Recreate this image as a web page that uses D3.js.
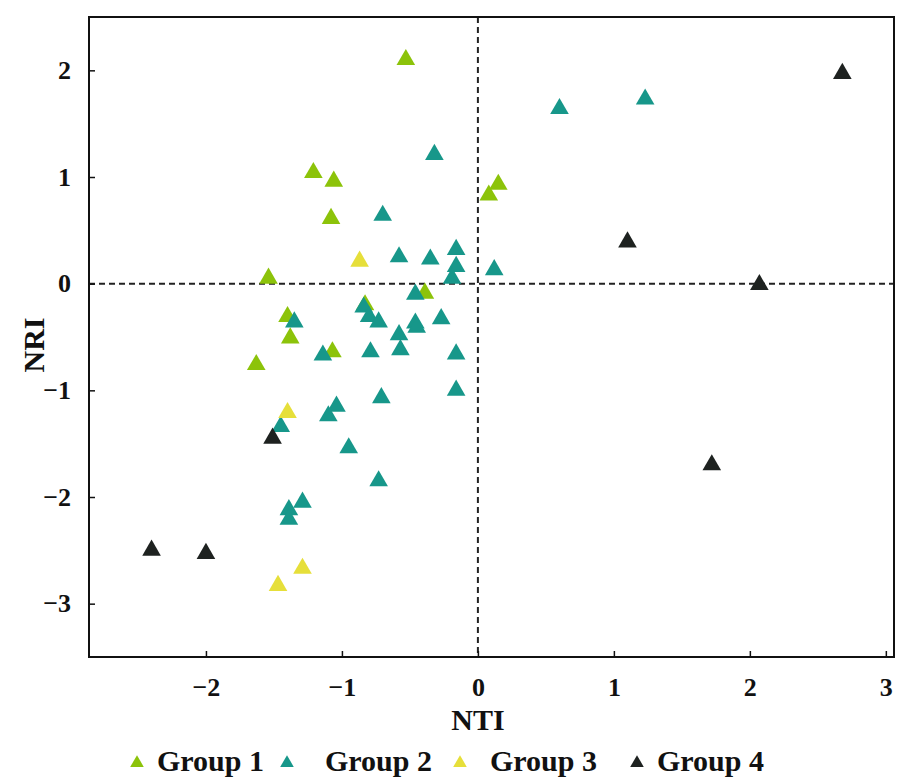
<!DOCTYPE html>
<html>
<head>
<meta charset="utf-8">
<script src="https://cdn.jsdelivr.net/npm/d3@7"></script>
<style>
  body { margin: 0; background: #fff; }
  text { font-family: "Liberation Serif", "DejaVu Serif", serif; font-weight: bold; }
</style>
</head>
<body>
<div id="chart"></div>
<script>
// NTI / NRI values per group
const groupNames = ["Group 1", "Group 2", "Group 3", "Group 4"];
const groupColors = ["#8cc30a", "#17978a", "#e6df3a", "#1e2220"];

const group1 = [
    [-0.53, 2.10], [-1.21, 1.04], [-1.06, 0.96], [-1.08, 0.61], [0.08, 0.83],
    [0.15, 0.93], [-1.54, 0.05], [-0.39, -0.09], [-0.83, -0.20], [-1.40, -0.31],
    [-1.38, -0.51], [-1.07, -0.64], [-1.63, -0.76]
];
const group2 = [
    [0.60, 1.64], [1.23, 1.73], [-0.32, 1.21], [-0.70, 0.64], [-0.58, 0.25],
    [-0.35, 0.23], [-0.16, 0.32], [-0.16, 0.16], [-0.19, 0.05], [0.12, 0.13],
    [-0.46, -0.10], [-0.84, -0.22], [-0.80, -0.31], [-0.73, -0.36], [-1.35, -0.36],
    [-0.27, -0.33], [-0.46, -0.37], [-0.45, -0.41], [-0.58, -0.48], [-0.57, -0.62],
    [-0.79, -0.64], [-1.14, -0.67], [-0.16, -0.66], [-0.16, -1.00], [-0.71, -1.07],
    [-1.04, -1.15], [-1.10, -1.24], [-1.45, -1.34], [-0.95, -1.54], [-0.73, -1.85],
    [-1.29, -2.05], [-1.39, -2.12], [-1.39, -2.21]
];
const group3 = [
    [-0.87, 0.21], [-1.40, -1.21], [-1.29, -2.67], [-1.47, -2.83]
];
const group4 = [
    [2.68, 1.97], [1.10, 0.39], [2.07, -0.01], [1.72, -1.70],
    [-1.51, -1.45], [-2.40, -2.50], [-2.00, -2.53]
];

const xTicks = [-2, -1, 0, 1, 2, 3];
const yTicks = [2, 1, 0, -1, -2, -3];

const W = 898, H = 778;
const margin = { top: 17, right: 4, bottom: 121, left: 89 };
const width = W - margin.left - margin.right;
const height = H - margin.top - margin.bottom;

const svg = d3.select("#chart").append("svg")
    .attr("width", W)
    .attr("height", H);

const g = svg.append("g")
    .attr("transform", `translate(${margin.left},${margin.top})`);

const x = d3.scaleLinear().domain([-2.86, 3.06]).range([0, width]);
const y = d3.scaleLinear().domain([-3.5, 2.5]).range([height, 0]);

const minusFmt = d => String(d).replace("-", "\u2212");

// zero reference lines
g.append("line")
    .attr("x1", x(0)).attr("x2", x(0))
    .attr("y1", 0).attr("y2", height)
    .attr("stroke", "#222").attr("stroke-width", 2)
    .attr("stroke-dasharray", "6,4");
g.append("line")
    .attr("x1", 0).attr("x2", width)
    .attr("y1", y(0)).attr("y2", y(0))
    .attr("stroke", "#222").attr("stroke-width", 2)
    .attr("stroke-dasharray", "6,4");

// points
const triangle = d3.symbol().type(d3.symbolTriangle).size(150);
const groups = [group1, group2, group3, group4];
groups.forEach((pts, i) => {
    g.append("g").selectAll("path")
        .data(pts)
        .enter()
        .append("path")
        .attr("d", triangle)
        .attr("transform", d => `translate(${x(d[0])},${y(d[1])})`)
        .attr("fill", groupColors[i]);
});

// axes, ticks pointing inward
const xAxis = g.append("g")
    .attr("transform", `translate(0,${height})`)
    .call(d3.axisBottom(x).tickValues(xTicks).tickSizeInner(-6).tickSizeOuter(0).tickPadding(21)
        .tickFormat(minusFmt));
xAxis.select(".domain").remove();
xAxis.selectAll("line").attr("stroke", "#111").attr("stroke-width", 1.5);
xAxis.selectAll("text").style("font-size", "26px").attr("fill", "#111");

const yAxis = g.append("g")
    .call(d3.axisLeft(y).tickValues(yTicks).tickSizeInner(-6).tickSizeOuter(0).tickPadding(18)
        .tickFormat(minusFmt));
yAxis.select(".domain").remove();
yAxis.selectAll("line").attr("stroke", "#111").attr("stroke-width", 1.5);
yAxis.selectAll("text").style("font-size", "26px").attr("fill", "#111");

// frame
g.append("rect")
    .attr("width", width).attr("height", height)
    .attr("fill", "none")
    .attr("stroke", "#111").attr("stroke-width", 2);

// axis titles
svg.append("text")
    .attr("x", margin.left + x(0))
    .attr("y", 730)
    .attr("text-anchor", "middle")
    .style("font-size", "30px")
    .attr("fill", "#111")
    .text("NTI");

svg.append("text")
    .attr("transform", `translate(44,${margin.top + height / 2 + 8}) rotate(-90)`)
    .attr("text-anchor", "middle")
    .style("font-size", "30px")
    .attr("fill", "#111")
    .text("NRI");

// legend
const legendX = [137, 287, 460, 637];
const textOffset = [20, 38, 30, 20];
const legend = svg.append("g");
groupNames.forEach((name, i) => {
    legend.append("path")
        .attr("d", d3.symbol().type(d3.symbolTriangle).size(80))
        .attr("transform", `translate(${legendX[i]},763)`)
        .attr("fill", groupColors[i]);
    legend.append("text")
        .attr("x", legendX[i] + textOffset[i])
        .attr("y", 771)
        .style("font-size", "30px")
        .attr("fill", "#111")
        .text(name);
});
</script>
</body>
</html>
